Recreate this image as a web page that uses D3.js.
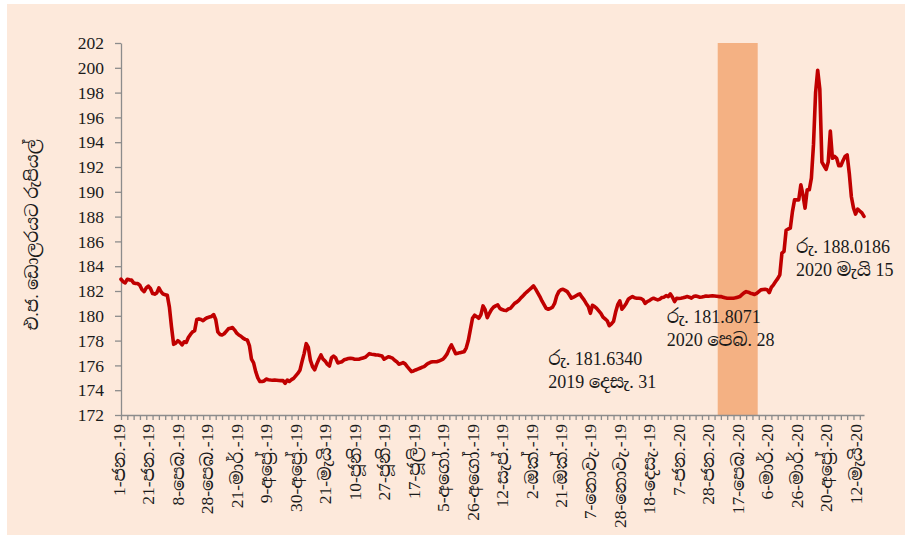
<!DOCTYPE html>
<html>
<head>
<meta charset="utf-8">
<script src="https://cdnjs.cloudflare.com/ajax/libs/d3/7.8.5/d3.min.js"></script>
<style>
  body { margin: 0; background: #fff; }
  svg text { font-family: "Liberation Serif", "Noto Serif Sinhala", "Noto Sans Sinhala", serif; fill: #1a1a1a; }
</style>
</head>
<body>
<div id="chart"></div>
<script>
const W = 912, H = 538;

// daily rate, Rs per US dollar (one value per trading day, 1 Jan 2019 .. 15 May 2020)
const rates = [
  182.95, 182.75, 182.65, 182.95, 182.9, 182.88, 182.65, 182.6, 182.6, 182.45,
  182.1, 181.95, 182.25, 182.4, 182.2, 181.8, 181.75, 181.85, 182.25, 181.95,
  181.75, 181.7, 181.65, 180.7, 179.1, 177.7, 177.8, 178.0, 177.85, 177.65,
  177.9, 177.85, 178.25, 178.5, 178.7, 178.8, 179.7, 179.75, 179.7, 179.6,
  179.75, 179.85, 179.9, 179.95, 180.1, 179.7, 178.7, 178.5, 178.45, 178.55,
  178.75, 178.95, 179.0, 179.05, 178.85, 178.6, 178.45, 178.35, 178.2, 178.1,
  178.05, 177.6, 176.5, 176.2, 175.5, 175.0, 174.7, 174.7, 174.75, 174.9,
  174.85, 174.82, 174.8, 174.82, 174.8, 174.78, 174.77, 174.77, 174.55, 174.82,
  174.7, 174.85, 174.95, 175.15, 175.35, 175.6, 176.3, 176.95, 177.75, 177.45,
  176.4, 175.9, 175.65, 176.1, 176.5, 176.84, 176.5, 176.35, 176.1, 175.95,
  176.6, 176.75, 176.6, 176.2, 176.25, 176.3, 176.45, 176.5, 176.55, 176.58,
  176.55, 176.5, 176.5, 176.5, 176.55, 176.6, 176.65, 176.8, 176.95, 176.9,
  176.88, 176.85, 176.84, 176.8, 176.76, 176.5, 176.6, 176.7, 176.65, 176.58,
  176.42, 176.3, 176.1, 176.15, 176.22, 176.12, 175.9, 175.7, 175.5, 175.55,
  175.63, 175.7, 175.77, 175.85, 175.9, 176.05, 176.17, 176.25, 176.3, 176.3,
  176.3, 176.35, 176.42, 176.5, 176.7, 176.95, 177.35, 177.65, 177.3, 176.95,
  176.98, 177.03, 177.07, 177.1, 177.4, 178.0, 178.9, 179.8, 180.05, 179.93,
  179.8, 180.1, 180.8, 180.5, 179.85, 180.2, 180.5, 180.7, 180.8, 180.88,
  180.6, 180.5, 180.45, 180.42, 180.55, 180.6, 180.8, 181.0, 181.1, 181.25,
  181.45, 181.6, 181.8, 181.95, 182.1, 182.25, 182.41, 182.15, 181.85, 181.55,
  181.2, 180.9, 180.6, 180.53, 180.6, 180.69, 181.0, 181.6, 181.95, 182.1,
  182.14, 182.05, 181.95, 181.7, 181.42, 181.5, 181.6, 181.7, 181.77, 181.5,
  181.28, 181.0, 180.75, 180.2, 180.85, 180.75, 180.6, 180.4, 180.2, 179.9,
  179.75, 179.6, 179.2, 179.35, 179.55, 180.3, 180.9, 181.2, 180.53, 180.74,
  181.0, 181.33, 181.45, 181.55, 181.45, 181.42, 181.42, 181.4, 181.3, 181.0,
  181.15, 181.22, 181.35, 181.42, 181.35, 181.28, 181.35, 181.48, 181.5, 181.634,
  181.55, 181.77, 181.5, 181.15, 181.42, 181.4, 181.42, 181.45, 181.5, 181.55,
  181.5, 181.42, 181.55, 181.6, 181.55, 181.5, 181.52, 181.55, 181.6, 181.58,
  181.6, 181.62, 181.6, 181.58, 181.55, 181.55, 181.5, 181.45, 181.42, 181.42,
  181.42, 181.42, 181.45, 181.5, 181.55, 181.7, 181.85, 181.95, 181.9, 181.82,
  181.78, 181.72, 181.8071, 181.95, 182.09, 182.12, 182.14, 182.1, 181.87, 182.3,
  182.5, 182.76, 183.0, 183.3, 185.05, 185.2, 186.9, 187.0, 187.07, 188.4,
  189.35, 189.35, 189.35, 190.56, 189.75, 188.68, 190.16, 190.16, 191.1, 193.8,
  198.0, 199.8, 198.3, 192.4,
  192.1, 191.8, 192.4, 194.9, 192.7, 192.85, 192.7, 192.1, 192.1, 192.5,
  192.85, 192.98, 191.5, 189.6, 188.7, 188.2, 188.6, 188.45, 188.3, 188.0186
];

// x-axis labels, one every 14 trading days
const tickLabels = [
  "1-ජන.-19", "21-ජන.-19", "8-පෙබ.-19", "28-පෙබ.-19", "21-මාර්.-19",
  "9-අප්‍රේ.-19", "30-අප්‍රේ.-19", "21-මැයි-19", "10-ජූනි-19", "27-ජූනි-19",
  "17-ජූලි-19", "5-අගෝ.-19", "26-අගෝ.-19", "12-සැප්.-19", "2-ඔක්.-19",
  "21-ඔක්.-19", "7-නොවැ.-19", "28-නොවැ.-19", "18-දෙසැ.-19", "7-ජන.-20",
  "28-ජන.-20", "17-පෙබ.-20", "6-මාර්.-20", "26-මාර්.-20", "20-අප්‍රේ.-20",
  "12-මැයි-20"
];
const labelStep = 14;
const tickStep = 3;

// shaded period (February 2020), first and last trading-day index
const shade = [284, 302];

const yTicks = [172, 174, 176, 178, 180, 182, 184, 186, 188, 190, 192, 194, 196, 198, 200, 202];
const yTitle = "එ.ජ. ඩොලරයට රුපියල්";

const notes = [
  { i: 259, lines: ["රු. 181.6340", "2019 දෙසැ. 31"], dx: -118, dy: 69 },
  { i: 302, lines: ["රු. 181.8071", "2020 පෙබ. 28"], dx: -90, dy: 30 },
  { i: 353, lines: ["රු. 188.0186", "2020 මැයි 15"], dx: -68, dy: 37 }
];

const svg = d3.select('#chart').append('svg')
  .attr('width', W)
  .attr('height', H);

svg.append('rect')
  .attr('x', 7).attr('y', 4)
  .attr('width', 898).attr('height', 531)
  .attr('fill', '#FDE9DB');

const x = d3.scaleLinear().domain([0, rates.length - 1]).range([121, 864]);
const y = d3.scaleLinear().domain([172, 202]).range([415, 43]);

// shaded band
svg.append('rect')
  .attr('x', x(shade[0] - 0.5))
  .attr('y', y(202))
  .attr('width', x(shade[1] + 0.5) - x(shade[0] - 0.5))
  .attr('height', y(172) - y(202))
  .attr('fill', '#F4B183');

// y axis
const yAxis = svg.append('g')
  .attr('transform', `translate(${x(0)},0)`)
  .call(d3.axisLeft(y).tickValues(yTicks).tickSize(6).tickSizeOuter(0).tickPadding(11));
yAxis.select('.domain').attr('stroke', '#8c8c8c').attr('stroke-width', 1.3);
yAxis.selectAll('.tick line').attr('stroke', '#8c8c8c').attr('stroke-width', 1.3);
yAxis.selectAll('.tick text')
  .style('font-size', '17.5px')
  .attr('fill', '#1a1a1a');

// x axis (tick marks only)
const xAxis = svg.append('g')
  .attr('transform', `translate(0,${y(172)})`)
  .call(d3.axisBottom(x)
    .tickValues(d3.range(0, rates.length, tickStep))
    .tickFormat('')
    .tickSize(5)
    .tickSizeOuter(0));
xAxis.select('.domain').attr('stroke', '#8c8c8c').attr('stroke-width', 1.3);
xAxis.selectAll('.tick line').attr('stroke', '#8c8c8c').attr('stroke-width', 1.3);

// rotated x labels
svg.append('g')
  .selectAll('text')
  .data(tickLabels)
  .join('text')
  .attr('transform', (d, k) => `translate(${x(k * labelStep)},${y(172) + 9}) rotate(-90)`)
  .attr('text-anchor', 'end')
  .attr('dominant-baseline', 'middle')
  .style('font-size', '17.5px')
  .text(d => d);

// y title
svg.append('text')
  .attr('transform', `translate(34,235) rotate(-90)`)
  .attr('text-anchor', 'middle')
  .attr('dominant-baseline', 'middle')
  .style('font-size', '17.5px')
  .text(yTitle);

// rate line
const line = d3.line()
  .x((d, i) => x(i))
  .y(d => y(d));

svg.append('path')
  .datum(rates)
  .attr('d', line)
  .attr('fill', 'none')
  .attr('stroke', '#C00000')
  .attr('stroke-width', 3.6)
  .attr('stroke-linejoin', 'round')
  .attr('stroke-linecap', 'round');

// annotations
notes.forEach(n => {
  const t = svg.append('text')
    .attr('x', x(n.i) + n.dx)
    .attr('y', y(rates[n.i]) + n.dy)
    .style('font-size', '18px');
  n.lines.forEach((s, k) => {
    t.append('tspan')
      .attr('x', x(n.i) + n.dx)
      .attr('dy', k === 0 ? 0 : 23)
      .text(s);
  });
});
</script>
</body>
</html>
